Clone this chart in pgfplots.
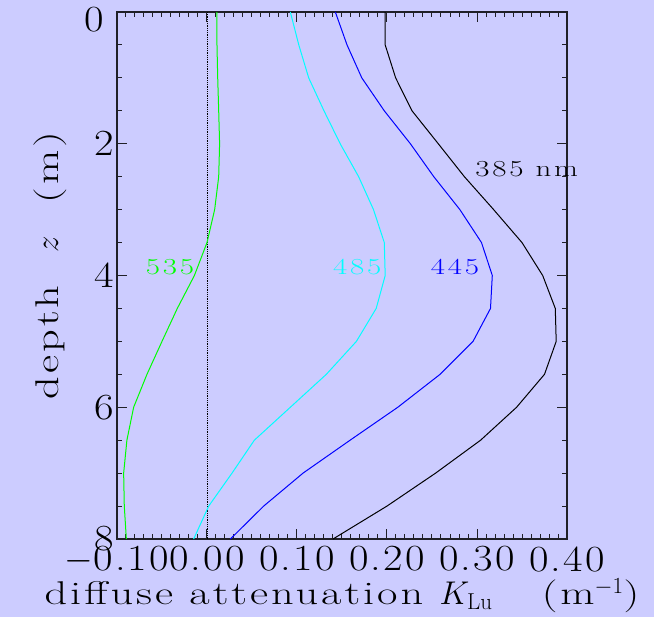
\documentclass[border=0pt]{standalone}
\usepackage{fix-cm}
\usepackage{fontspec}
\usepackage{pgfplots}
\pgfplotsset{compat=1.18}
\definecolor{bg}{HTML}{CCCCFF}
\definecolor{axcol}{HTML}{202028}
\definecolor{cgreen}{RGB}{0,255,0}
\definecolor{ccyan}{RGB}{0,255,255}
\definecolor{cblue}{RGB}{0,0,255}
\newfontfamily\widefont[FakeStretch=1.15,LetterSpace=6]{Latin Modern Roman}
\newfontfamily\labfont[FakeStretch=1.35,LetterSpace=9]{Latin Modern Roman}
\newfontfamily\curvefont[FakeStretch=1.35,LetterSpace=12]{Latin Modern Roman}

\begin{document}
\begin{tikzpicture}
\fill[bg] (-117bp,-78bp) rectangle (537bp,539bp);
\useasboundingbox (-117bp,-78bp) rectangle (537bp,539bp);
\begin{axis}[
  at={(0,0)},anchor=south west,
  scale only axis,width=450bp,height=527bp,
  xmin=-0.10,xmax=0.40,ymin=0,ymax=8,y dir=reverse,
  clip=false,
  xtick={-0.1,0,0.1,0.2,0.3,0.4},
  xticklabels={$-$0.10,0.00,0.10,0.20,0.30,0.40},
  ytick={0,2,4,6,8},yticklabels={,2,4,6,8},
  minor x tick num=9,minor y tick num=3,
  tick align=inside,
  major tick length=10bp,minor tick length=5bp,
  every tick/.style={axcol,line width=1bp},
  axis line style={axcol,line width=1.3bp},
  tick label style={font=\widefont\fontsize{37}{40}\selectfont},
  x tick label style={yshift=-4bp},
  xlabel={diffuse attenuation $K_{\mathrm{Lu}}$\quad\ (m$^{-1}$)},
  ylabel={depth\quad$z$\quad(m)},
  every axis x label/.style={at={(axis description cs:0.50,-0.1252)},anchor=base},
  every axis y label/.style={at={(axis description cs:-0.1311,0.519)},rotate=90,anchor=base},
  label style={font=\labfont\fontsize{33}{38}\selectfont},
]
\addplot[black,densely dotted,line width=0.8bp] coordinates {(0,0) (0,8)};
% 535 nm
\addplot[color=cgreen,line width=1bp] coordinates {
(0.0111,0) (0.0111,0.5) (0.0119,1.0) (0.0130,1.5) (0.0140,2.0) (0.0130,2.5)
(0.0085,3.0) (0.0000,3.5) (-0.0140,4.0) (-0.0330,4.5) (-0.0500,5.0) (-0.0667,5.5)
(-0.0815,6.0) (-0.0890,6.5) (-0.0926,7.0) (-0.0919,7.5) (-0.0896,8.0)};
% 485 nm
\addplot[color=ccyan,line width=1bp] coordinates {
(0.0926,0) (0.1020,0.5) (0.1130,1.0) (0.1300,1.5) (0.1480,2.0) (0.1685,2.5)
(0.1850,3.0) (0.1970,3.5) (0.1980,4.0) (0.1880,4.5) (0.1660,5.0) (0.1326,5.5)
(0.0926,6.0) (0.0526,6.5) (0.0278,7.0) (0.0019,7.5) (-0.0148,8.0)};
% 445 nm
\addplot[color=cblue,line width=1bp] coordinates {
(0.1426,0) (0.1556,0.5) (0.1720,1.0) (0.1970,1.5) (0.2260,2.0) (0.2520,2.5)
(0.2810,3.0) (0.3050,3.5) (0.3170,4.0) (0.3150,4.5) (0.2956,5.0) (0.2590,5.5)
(0.2120,6.0) (0.1590,6.5) (0.1067,7.0) (0.0630,7.5) (0.0260,8.0)};
% 385 nm
\addplot[color=black,line width=1bp] coordinates {
(0.1980,0) (0.1980,0.5) (0.2096,1.0) (0.2278,1.5) (0.2570,2.0) (0.2860,2.5)
(0.3185,3.0) (0.3500,3.5) (0.3730,4.0) (0.3870,4.5) (0.3880,5.0) (0.3750,5.5)
(0.3440,6.0) (0.3040,6.5) (0.2540,7.0) (0.2000,7.5) (0.1400,8.0)};
\node[anchor=east,inner sep=0pt,font=\widefont\fontsize{37}{40}\selectfont]
  at (axis cs:-0.10,0) [xshift=-13bp,yshift=-8bp] {0};
\begin{scope}[font=\curvefont\fontsize{23}{26}\selectfont,inner sep=0pt]
\node[anchor=base west,black] at (axis cs:0.298,2.50) {385 nm};
\node[anchor=base west,cgreen] at (axis cs:-0.068,3.99) {535};
\node[anchor=base west,ccyan] at (axis cs:0.140,3.99) {485};
\node[anchor=base west,cblue] at (axis cs:0.2486,3.99) {445};
\end{scope}
\end{axis}
\end{tikzpicture}
\end{document}
